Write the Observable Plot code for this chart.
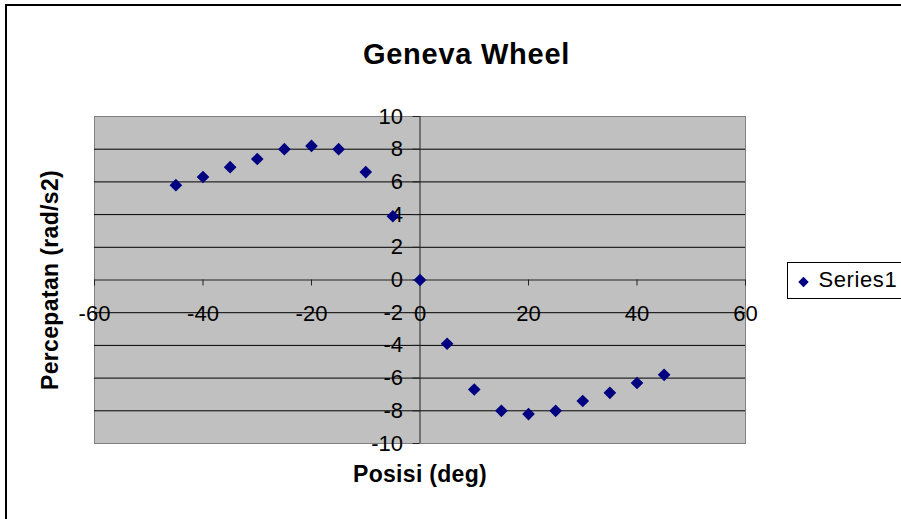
<!DOCTYPE html>
<html><head><meta charset="utf-8">
<script src="https://cdn.jsdelivr.net/npm/d3@7"></script>
<script src="https://cdn.jsdelivr.net/npm/@observablehq/plot@0.6"></script>
<style>
html,body{margin:0;padding:0;background:#fff;overflow:hidden;}
#wrap{position:relative;width:901px;height:519px;overflow:hidden;}
#border{position:absolute;left:5px;top:4px;width:2000px;height:2000px;border:2px solid #000;box-sizing:border-box;}
#legendbox{position:absolute;left:787px;top:262px;width:140px;height:37px;border:1px solid #000;box-sizing:border-box;background:#fff;}
#chart{position:absolute;left:0;top:0;}
</style></head><body>
<div id="wrap"><div id="border"></div><div id="legendbox"></div><div id="chart"></div></div>
<script>
const chartTitle = "Geneva Wheel";
const xLabel = "Posisi (deg)";
const yLabel = "Percepatan (rad/s2)";
const seriesName = "Series1";
const positions = [-45,-40,-35,-30,-25,-20,-15,-10,-5,0,5,10,15,20,25,30,35,40,45];
const accel = [5.8,6.3,6.9,7.4,8.0,8.2,8.0,6.6,3.9,0,-3.9,-6.7,-8.0,-8.2,-8.0,-7.4,-6.9,-6.3,-5.8];
const xTicks = [-60,-40,-20,0,20,40,60];
const yTicks = [-10,-8,-6,-4,-2,0,2,4,6,8,10];
const gridLines = [-8,-6,-4,-2,2,4,6,8];

const data = positions.map((p, i) => ({x: p, y: accel[i]}));
const navy = "#000080";

const plot = Plot.plot({
  width: 901,
  height: 519,
  marginLeft: 94,
  marginRight: 156,
  marginTop: 116,
  marginBottom: 76,
  x: {domain: [-60, 60], axis: null},
  y: {domain: [-10, 10], axis: null},
  style: {background: "transparent", overflow: "visible", fontFamily: "Arial, 'Liberation Sans', sans-serif", color: "#000"},
  marks: [
    Plot.frame({fill: "#C0C0C0", stroke: "#808080", strokeWidth: 1}),
    Plot.ruleY(gridLines, {y: d => d, stroke: "#000", strokeWidth: 1}),
    Plot.ruleY([0], {y: d => d, stroke: "#222", strokeWidth: 1}),
    Plot.ruleX([0], {x: d => d, stroke: "#222", strokeWidth: 1}),
    // x tick marks (downward)
    Plot.ruleX(xTicks, {x: d => d, y1: () => 0, y2: () => 0, insetBottom: -6, stroke: "#222"}),
    // y tick marks (left)
    Plot.ruleY(yTicks, {y: d => d, x1: () => 0, x2: () => 0, insetLeft: -7, stroke: "#222"}),
    // tick labels
    Plot.text(yTicks, {x: () => 0, y: d => d, text: d => String(d), textAnchor: "end", dx: -17, fontSize: 22}),
    Plot.text(xTicks, {x: d => d, y: () => 0, text: d => String(d), dy: 34, fontSize: 22}),
    // data
    Plot.dot(data, {x: "x", y: "y", symbol: "diamond2", r: 5.7, fill: navy, stroke: "none"}),
    // titles
    Plot.text([chartTitle], {frameAnchor: "top", dx: 46.5, dy: -73.3, fontSize: 29, fontWeight: "bold", textAnchor: "middle"}),
    Plot.text([xLabel], {frameAnchor: "bottom", dy: 38.5, fontSize: 23, fontWeight: "bold", textAnchor: "middle"}),
    Plot.text([yLabel], {frameAnchor: "left", dx: -44, rotate: -90, fontSize: 23, fontWeight: "bold", textAnchor: "middle"}),
    // legend
    Plot.dot([seriesName], {frameAnchor: "right", dx: 58, dy: 2, symbol: "diamond2", r: 4.7, fill: navy, stroke: "none"}),
    Plot.text([seriesName], {frameAnchor: "right", dx: 73, textAnchor: "start", fontSize: 22})
  ]
});
document.getElementById("chart").appendChild(plot);

const spacing = {[chartTitle]: 0.75, [xLabel]: 0.3, [yLabel]: 0.35, [seriesName]: 0.6};
d3.select(plot).selectAll("text").each(function() {
  const t = this.textContent;
  if (spacing[t] != null) d3.select(this).attr("letter-spacing", spacing[t]);
});
</script>
</body></html>
